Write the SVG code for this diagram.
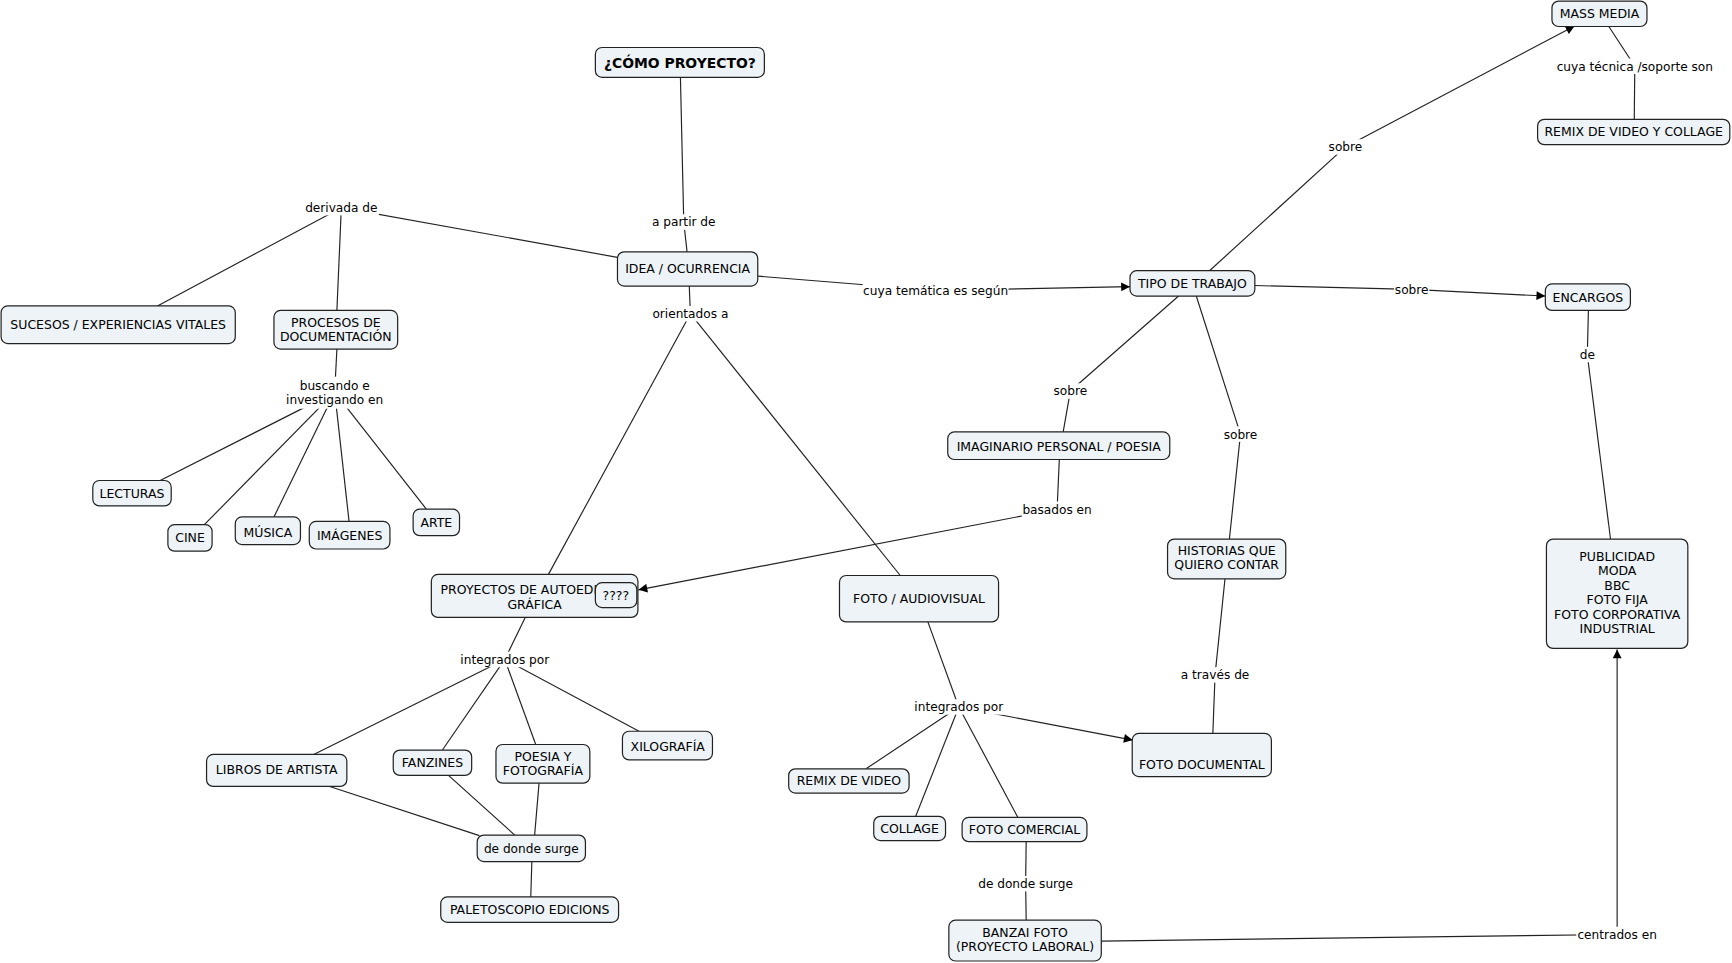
<svg xmlns="http://www.w3.org/2000/svg" width="1732" height="963" viewBox="0 0 1732 963">
<style>
text{font-family:"DejaVu Sans",Verdana,sans-serif;font-size:11.3px;fill:#000;text-anchor:middle}
.lbl text,.lc{font-size:11px}
.b{font-weight:bold;font-size:12.6px}
.node rect{fill:#EDF3F6;stroke:#222;stroke-width:1.1}
#connectors line{stroke:#222;stroke-width:1.05;fill:none}
.lbl rect{fill:#fff}
</style>
<defs>
<marker id="arr" viewBox="0 0 10 10" refX="10" refY="5" markerWidth="10" markerHeight="8" markerUnits="userSpaceOnUse" orient="auto"><path d="M0,0 L10,5 L0,10 z" fill="#000"/></marker>
</defs>
<rect width="1732" height="963" fill="#fff"/>
<g transform="scale(1.1046)">
<g id="connectors">
<line x1="616" y1="70" x2="619" y2="201"/>
<line x1="619" y1="201" x2="622" y2="228"/>
<line x1="559" y1="233" x2="309" y2="188"/>
<line x1="309" y1="188" x2="142.5" y2="277"/>
<line x1="309" y1="188" x2="305" y2="281"/>
<line x1="624" y1="259" x2="625" y2="284"/>
<line x1="625" y1="284" x2="496.5" y2="520"/>
<line x1="625" y1="284" x2="815" y2="521"/>
<line x1="686" y1="250" x2="847" y2="263"/>
<line x1="847" y1="263" x2="1023" y2="259.5" marker-end="url(#arr)"/>
<line x1="305" y1="316" x2="303" y2="355"/>
<line x1="303" y1="355" x2="145" y2="435"/>
<line x1="303" y1="355" x2="185" y2="475"/>
<line x1="303" y1="355" x2="248" y2="468"/>
<line x1="303" y1="355" x2="316" y2="472"/>
<line x1="303" y1="355" x2="386" y2="461"/>
<line x1="475.5" y1="559" x2="457" y2="597"/>
<line x1="457" y1="597" x2="284" y2="683"/>
<line x1="457" y1="597" x2="400.5" y2="679"/>
<line x1="457" y1="597" x2="485" y2="674"/>
<line x1="457" y1="597" x2="578.5" y2="662"/>
<line x1="298.5" y1="712" x2="434" y2="756.5"/>
<line x1="406" y1="702" x2="466" y2="756"/>
<line x1="488" y1="709" x2="484" y2="756"/>
<line x1="481.5" y1="780" x2="480.5" y2="812"/>
<line x1="959" y1="416" x2="957" y2="461"/>
<line x1="957" y1="461" x2="578" y2="534" marker-end="url(#arr)"/>
<line x1="1067" y1="268" x2="969" y2="354"/>
<line x1="969" y1="354" x2="962.5" y2="391"/>
<line x1="1083" y1="268" x2="1123" y2="393"/>
<line x1="1123" y1="393" x2="1113" y2="488"/>
<line x1="1136" y1="258.5" x2="1278" y2="262"/>
<line x1="1278" y1="262" x2="1399" y2="268" marker-end="url(#arr)"/>
<line x1="1094" y1="246" x2="1218" y2="133"/>
<line x1="1218" y1="133" x2="1425.5" y2="23.5" marker-end="url(#arr)"/>
<line x1="1456.5" y1="24" x2="1480" y2="60"/>
<line x1="1480" y1="60" x2="1479.5" y2="108"/>
<line x1="1438" y1="281" x2="1437" y2="321"/>
<line x1="1437" y1="321" x2="1458" y2="488"/>
<line x1="840" y1="563" x2="868" y2="640"/>
<line x1="868" y1="640" x2="784" y2="696"/>
<line x1="868" y1="640" x2="829" y2="739"/>
<line x1="868" y1="640" x2="921.5" y2="740"/>
<line x1="868" y1="640" x2="1025.5" y2="670" marker-end="url(#arr)"/>
<line x1="1109" y1="524" x2="1100" y2="611"/>
<line x1="1100" y1="611" x2="1098" y2="664"/>
<line x1="929" y1="762" x2="928.5" y2="800"/>
<line x1="928.5" y1="800" x2="929" y2="833"/>
<line x1="997" y1="852" x2="1464" y2="846"/>
<line x1="1464" y1="846" x2="1464" y2="588" marker-end="url(#arr)"/>
</g>
<g id="labels" class="lbl">
<rect x="588" y="194" width="62" height="14"/><text x="619" y="205">a partir de</text>
<rect x="275" y="181" width="68" height="14"/><text x="309" y="192">derivada de</text>
<rect x="589" y="277" width="72" height="14"/><text x="625" y="288">orientados a</text>
<rect x="781" y="256" width="132" height="14"/><text x="847" y="267">cuya temática es según</text>
<rect x="258" y="341" width="90" height="29"/><text x="303" y="353">buscando e</text><text x="303" y="366">investigando en</text>
<rect x="416" y="590" width="82" height="14"/><text x="457" y="601">integrados por</text>
<rect x="827" y="633" width="82" height="14"/><text x="868" y="644">integrados por</text>
<rect x="925" y="454" width="64" height="14"/><text x="957" y="465">basados en</text>
<rect x="1202" y="126" width="32" height="14"/><text x="1218" y="137">sobre</text>
<rect x="1262" y="255" width="32" height="14"/><text x="1278" y="266">sobre</text>
<rect x="953" y="347" width="32" height="14"/><text x="969" y="358">sobre</text>
<rect x="1107" y="386" width="32" height="14"/><text x="1123" y="397">sobre</text>
<rect x="1409" y="53" width="142" height="14"/><text x="1480" y="64">cuya técnica /soporte son</text>
<rect x="1429" y="314" width="16" height="14"/><text x="1437" y="325">de</text>
<rect x="1068" y="604" width="64" height="14"/><text x="1100" y="615">a través de</text>
<rect x="885" y="793" width="87" height="14"/><text x="928.5" y="804">de donde surge</text>
<rect x="1427" y="839" width="74" height="14"/><text x="1464" y="850">centrados en</text>
</g>
<g id="n-como" class="node"><rect x="539" y="43" width="153" height="27" rx="6"/><text class="b" x="615.5" y="61.5">¿CÓMO PROYECTO?</text></g>
<g id="n-idea" class="node"><rect x="559" y="228" width="127" height="31" rx="6"/><text x="622.5" y="247.5">IDEA / OCURRENCIA</text></g>
<g id="n-sucesos" class="node"><rect x="1" y="277" width="212" height="34" rx="6"/><text x="107" y="298">SUCESOS / EXPERIENCIAS VITALES</text></g>
<g id="n-procesos" class="node"><rect x="248" y="281" width="112" height="35" rx="6"/><text x="304" y="296">PROCESOS DE</text><text x="304" y="309">DOCUMENTACIÓN</text></g>
<g id="n-lecturas" class="node"><rect x="84" y="435" width="71" height="23" rx="6"/><text x="119.5" y="451">LECTURAS</text></g>
<g id="n-cine" class="node"><rect x="152" y="475" width="40" height="24" rx="6"/><text x="172" y="491">CINE</text></g>
<g id="n-musica" class="node"><rect x="213" y="468" width="59" height="25" rx="6"/><text x="242.5" y="486">MÚSICA</text></g>
<g id="n-imagenes" class="node"><rect x="280" y="472" width="73" height="25" rx="6"/><text x="316.5" y="489">IMÁGENES</text></g>
<g id="n-arte" class="node"><rect x="374" y="461" width="42" height="24" rx="6"/><text x="395" y="477">ARTE</text></g>
<g id="n-proyectos" class="node"><rect x="390.5" y="520" width="187" height="39" rx="6"/><text x="484" y="538">PROYECTOS DE AUTOEDICIÓN</text><text x="484" y="551">GRÁFICA</text></g>
<g id="n-interrogantes" class="node"><rect x="539" y="527.5" width="37.5" height="22.5" rx="6"/><text x="557.5" y="543">????</text></g>
<g id="n-fotoav" class="node"><rect x="760" y="521" width="144" height="42" rx="6"/><text x="832" y="546">FOTO / AUDIOVISUAL</text></g>
<g id="n-libros" class="node"><rect x="187" y="683" width="127" height="29" rx="6"/><text x="250.5" y="701">LIBROS DE ARTISTA</text></g>
<g id="n-fanzines" class="node"><rect x="356" y="679" width="71" height="23" rx="6"/><text x="391.5" y="694">FANZINES</text></g>
<g id="n-poesia" class="node"><rect x="449" y="674" width="85" height="35" rx="6"/><text x="491.5" y="689">POESIA Y</text><text x="491.5" y="702">FOTOGRAFÍA</text></g>
<g id="n-xilografia" class="node"><rect x="563.5" y="662" width="81.5" height="26" rx="6"/><text x="604.5" y="680">XILOGRAFÍA</text></g>
<g id="n-dedondesurge" class="node"><rect x="432" y="756" width="98" height="24" rx="6"/><text class="lc" x="481" y="772">de donde surge</text></g>
<g id="n-paletoscopio" class="node"><rect x="399" y="812" width="161" height="23" rx="6"/><text x="479.5" y="827.5">PALETOSCOPIO EDICIONS</text></g>
<g id="n-remixvideo" class="node"><rect x="714" y="696" width="109" height="22" rx="6"/><text x="768.5" y="711">REMIX DE VIDEO</text></g>
<g id="n-collage" class="node"><rect x="791" y="739" width="65" height="22" rx="6"/><text x="823.5" y="754">COLLAGE</text></g>
<g id="n-comercial" class="node"><rect x="871" y="740" width="113" height="22" rx="6"/><text x="927.5" y="755">FOTO COMERCIAL</text></g>
<g id="n-banzai" class="node"><rect x="859" y="833" width="138" height="37" rx="6"/><text x="928" y="848">BANZAI FOTO</text><text x="928" y="861">(PROYECTO LABORAL)</text></g>
<g id="n-fotodoc" class="node"><rect x="1025" y="664" width="126" height="39" rx="6"/><text x="1088" y="696">FOTO DOCUMENTAL</text></g>
<g id="n-historias" class="node"><rect x="1057" y="488" width="107" height="36" rx="6"/><text x="1110.5" y="502">HISTORIAS QUE</text><text x="1110.5" y="515">QUIERO CONTAR</text></g>
<g id="n-imaginario" class="node"><rect x="858" y="391" width="201" height="25" rx="6"/><text x="958.5" y="408">IMAGINARIO PERSONAL / POESIA</text></g>
<g id="n-tipo" class="node"><rect x="1023" y="245" width="113" height="23" rx="6"/><text x="1079.5" y="260.5">TIPO DE TRABAJO</text></g>
<g id="n-encargos" class="node"><rect x="1399" y="257" width="77" height="24" rx="6"/><text x="1437.5" y="273">ENCARGOS</text></g>
<g id="n-massmedia" class="node"><rect x="1405" y="1" width="86" height="23" rx="6"/><text x="1448" y="16.5">MASS MEDIA</text></g>
<g id="n-remixvc" class="node"><rect x="1392" y="108" width="174" height="23" rx="6"/><text x="1479" y="123.5">REMIX DE VIDEO Y COLLAGE</text></g>
<g id="n-publicidad" class="node"><rect x="1400" y="488" width="128" height="99" rx="6"/><text x="1464" y="508">PUBLICIDAD</text><text x="1464" y="521">MODA</text><text x="1464" y="534">BBC</text><text x="1464" y="547">FOTO FIJA</text><text x="1464" y="560">FOTO CORPORATIVA</text><text x="1464" y="573">INDUSTRIAL</text></g>
</g>
</svg>
